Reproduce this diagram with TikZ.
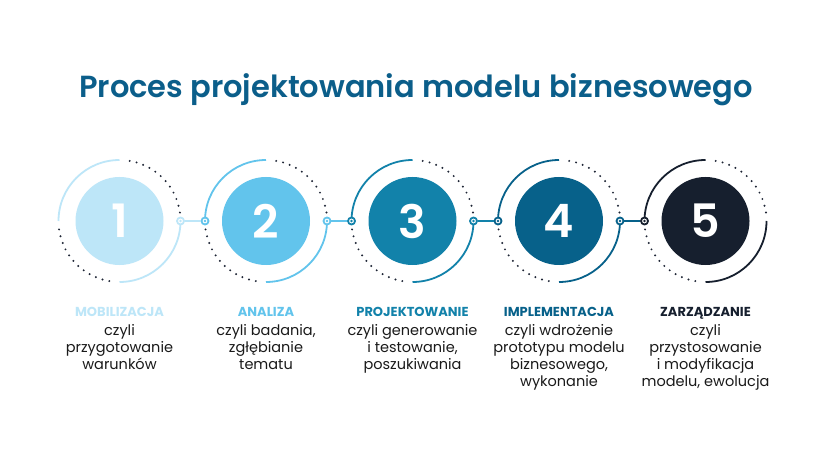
\documentclass[tikz,border=0pt]{standalone}
\usepackage{fontspec}
\usetikzlibrary{calc}
\setmainfont{Poppins}
\newfontfamily\titlefont{Poppins SemiBold}
\definecolor{cA}{HTML}{BDE6F8}
\definecolor{cB}{HTML}{62C4EC}
\definecolor{cC}{HTML}{1282AA}
\definecolor{cD}{HTML}{07618A}
\definecolor{cE}{HTML}{161F2E}
\definecolor{titlecol}{HTML}{0B5E8A}
\definecolor{dotcol}{HTML}{1E2535}
\definecolor{bodycol}{HTML}{1A1A1A}
\tikzset{
  bigcirc/.style={circle, minimum size=88pt, inner sep=0pt, text=white, font=\fontsize{46}{46}\selectfont\titlefont},
  ringsolid/.style={line width=1.8pt},
  ringdots/.style={dotcol, line width=2.2pt, line cap=round, dash pattern=on 0pt off 7pt},
  connode/.style={circle, minimum size=7pt, inner sep=0pt, line width=1.8pt, fill=white},
  conline/.style={line width=1.6pt},
  headtxt/.style={font=\fontsize{13}{15}\selectfont\bfseries},
  bodytxt/.style={align=center, text=bodycol, font=\fontsize{14.5}{17}\selectfont},
}
\begin{document}
\begin{tikzpicture}[x=1pt,y=1pt]
\useasboundingbox (0,0) rectangle (834,450);
\fill[white] (0,0) rectangle (834,450);
% title
\node[anchor=base, text=titlecol, font=\fontsize{30.5}{31}\selectfont\titlefont] (title) at (416,352) {Proces projektowania modelu biznesowego};
% circles
\foreach \i/\c/\x in {1/cA/119.5, 2/cB/266, 3/cC/412.5, 4/cD/559, 5/cE/705.5}{
  \node[bigcirc, fill=\c] (n\i) at (\x,229) {\i};
  \draw[ringsolid, \c] (n\i.center) ++(90:61) arc[start angle=90, end angle=180, radius=61];
  \draw[ringsolid, \c] (n\i.center) ++(270:61) arc[start angle=270, end angle=360, radius=61];
  \draw[ringdots] (n\i.center) ++(188:61) arc[start angle=188, end angle=266, radius=61];
  \draw[ringdots] (n\i.center) ++(8:61) arc[start angle=8, end angle=84, radius=61];
}
% connector nodes
\foreach \i/\c in {1/cA, 2/cB, 3/cC, 4/cD}{
  \node[connode, draw=\c] (r\i) at ($(n\i.center)+(61,0)$) {};
}
\foreach \i/\c in {2/cB, 3/cC, 4/cD, 5/cE}{
  \node[connode, draw=\c] (l\i) at ($(n\i.center)+(-61,0)$) {};
}
\foreach \i/\c in {1/cA, 2/cB, 3/cC, 4/cD, 5/cE}{
  \ifnum\i<5 \fill[\c] (r\i.center) circle (1.4); \fi
  \ifnum\i>1 \fill[\c] (l\i.center) circle (1.4); \fi
}
\draw[conline, cA] (r1) -- (l2);
\draw[conline, cB] (r2) -- (l3);
\draw[conline, cC] (r3) -- (l4);
\draw[conline, cD] (r4) -- (l5);
% labels
\node[headtxt, text=cA, anchor=base] (h1) at (119.5,134) {MOBILIZACJA};
\node[headtxt, text=cB, anchor=base] (h2) at (266,134) {ANALIZA};
\node[headtxt, text=cC, anchor=base] (h3) at (412.5,134) {PROJEKTOWANIE};
\node[headtxt, text=cD, anchor=base] (h4) at (559,134) {IMPLEMENTACJA};
\node[headtxt, text=cE, anchor=base] (h5) at (705.5,134) {ZARZĄDZANIE};
\node[bodytxt, anchor=north] (b1) at (119.5,129) {czyli\\przygotowanie\\warunków};
\node[bodytxt, anchor=north] (b2) at (266,129) {czyli badania,\\zgłębianie\\tematu};
\node[bodytxt, anchor=north] (b3) at (412.5,129) {czyli generowanie\\i testowanie,\\poszukiwania};
\node[bodytxt, anchor=north] (b4) at (559,129) {czyli wdrożenie\\prototypu modelu\\biznesowego,\\wykonanie};
\node[bodytxt, anchor=north] (b5) at (705.5,129) {czyli\\przystosowanie\\i modyfikacja\\modelu, ewolucja};
\end{tikzpicture}
\end{document}
